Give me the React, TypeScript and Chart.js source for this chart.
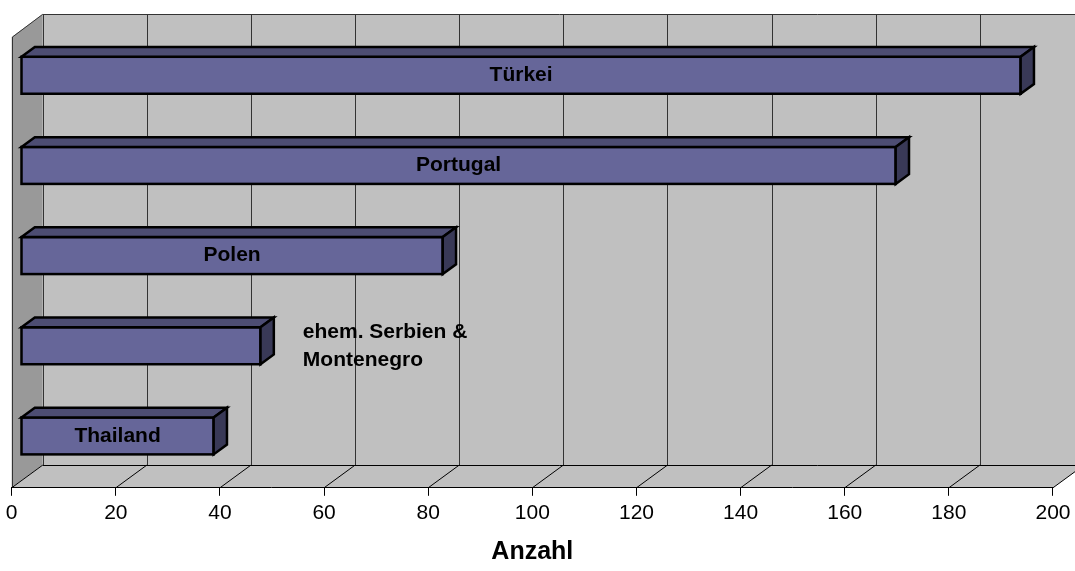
import React, { useEffect, useRef } from 'react';
import { Chart, registerables } from 'chart.js';

Chart.register(...registerables);

// ---- data ----
const categories: (string | string[])[] = ['Türkei', 'Portugal', 'Polen', ['ehem. Serbien &', 'Montenegro'], 'Thailand'];
const values: number[] = [192, 168, 81, 46, 37];
const xTicks: number[] = [0, 20, 40, 60, 80, 100, 120, 140, 160, 180, 200];
const axisTitle = 'Anzahl';

// ---- styles ----
const FONT = '"Liberation Sans", Arial, Helvetica, sans-serif';
const DX = 31; // full depth offset (px)
const DY = -22.7;
const FRONT = 0.3; // bar front plane position (fraction of depth)
const BAR_D = 0.43; // bar depth (fraction of depth)
const WALL = '#c0c0c0';
const SIDE = '#999999';
const GRID = '#333333';
const BAR_FRONT = '#666699';
const BAR_TOP = '#4d4d73';
const BAR_SIDE = '#393957';

const threeD = {
  id: 'threeD',
  beforeDraw(chart: any) {
    const { ctx, chartArea: ca, scales } = chart;
    const x = scales.x;
    const x0 = x.getPixelForValue(x.min);
    const x1 = x.getPixelForValue(x.max);
    const top = ca.top;
    const bot = ca.bottom;
    const bx0 = x0 + DX, bx1 = x1 + DX, bt = top + DY, bb = bot + DY;
    ctx.save();
    // back wall
    ctx.fillStyle = WALL;
    ctx.fillRect(bx0, bt, bx1 - bx0, bb - bt);
    // side wall
    ctx.beginPath();
    ctx.moveTo(x0, top);
    ctx.lineTo(bx0, bt);
    ctx.lineTo(bx0, bb);
    ctx.lineTo(x0, bot);
    ctx.closePath();
    ctx.fillStyle = SIDE;
    ctx.fill();
    // floor
    ctx.beginPath();
    ctx.moveTo(x0, bot);
    ctx.lineTo(x1, bot);
    ctx.lineTo(bx1, bb);
    ctx.lineTo(bx0, bb);
    ctx.closePath();
    ctx.fillStyle = WALL;
    ctx.fill();
    // back wall gridlines
    ctx.lineWidth = 1;
    ctx.strokeStyle = GRID;
    xTicks.forEach((v) => {
      const px = Math.round(x.getPixelForValue(v) + DX) + 0.5;
      ctx.beginPath();
      ctx.moveTo(px, bt);
      ctx.lineTo(px, bb);
      ctx.stroke();
    });
    // wall top edge
    ctx.beginPath();
    ctx.moveTo(bx0, Math.round(bt) + 0.5);
    ctx.lineTo(bx1, Math.round(bt) + 0.5);
    ctx.stroke();
    // side wall outline
    ctx.beginPath();
    ctx.moveTo(Math.round(x0) + 0.5, bot);
    ctx.lineTo(Math.round(x0) + 0.5, top);
    ctx.lineTo(bx0, bt);
    ctx.stroke();
    // floor lines
    ctx.strokeStyle = '#000';
    ctx.beginPath();
    ctx.moveTo(bx0, Math.round(bb) + 0.5);
    ctx.lineTo(bx1, Math.round(bb) + 0.5);
    ctx.stroke();
    xTicks.forEach((v) => {
      const px = x.getPixelForValue(v);
      ctx.beginPath();
      ctx.moveTo(px, bot);
      ctx.lineTo(px + DX, bb);
      ctx.stroke();
    });
    ctx.restore();
  },
  beforeDatasetsDraw(chart: any) {
    chart.ctx.save();
    chart.ctx.translate(DX * FRONT, DY * FRONT);
  },
  afterDatasetsDraw(chart: any) {
    const { ctx } = chart;
    ctx.restore();
    const meta = chart.getDatasetMeta(0);
    const ox = DX * FRONT, oy = DY * FRONT;
    const ddx = DX * BAR_D, ddy = DY * BAR_D;
    ctx.save();
    ctx.lineJoin = 'miter';
    ctx.lineWidth = 2.5;
    ctx.strokeStyle = '#000';
    meta.data.forEach((bar: any, i: number) => {
      const p = bar.getProps(['x', 'y', 'base', 'height'], true);
      const l = p.base + ox, r = p.x + ox;
      const t = p.y - p.height / 2 + oy, b = p.y + p.height / 2 + oy;
      // front outline
      ctx.strokeRect(l, t, r - l, b - t);
      // top face
      ctx.beginPath();
      ctx.moveTo(l, t);
      ctx.lineTo(l + ddx, t + ddy);
      ctx.lineTo(r + ddx, t + ddy);
      ctx.lineTo(r, t);
      ctx.closePath();
      ctx.fillStyle = BAR_TOP;
      ctx.fill();
      ctx.stroke();
      // side face
      ctx.beginPath();
      ctx.moveTo(r, t);
      ctx.lineTo(r + ddx, t + ddy);
      ctx.lineTo(r + ddx, b + ddy);
      ctx.lineTo(r, b);
      ctx.closePath();
      ctx.fillStyle = BAR_SIDE;
      ctx.fill();
      ctx.stroke();
      // label
      const lab = categories[i];
      const lines = Array.isArray(lab) ? lab : [lab];
      ctx.font = `bold 21px ${FONT}`;
      ctx.fillStyle = '#000';
      ctx.textBaseline = 'middle';
      const full = lines.join(' ');
      const w = ctx.measureText(full).width;
      const cy = (t + b) / 2;
      if (w + 12 < r - l) {
        ctx.textAlign = 'center';
        ctx.fillText(full, (l + r) / 2, cy);
      } else {
        ctx.textAlign = 'left';
        const lh = 28;
        const y0 = cy - ((lines.length - 1) * lh) / 2;
        lines.forEach((ln, k) => ctx.fillText(ln, r + ddx + 29, y0 + k * lh));
      }
    });
    ctx.restore();
  },
};

export default function App() {
  const ref = useRef<HTMLCanvasElement>(null);
  useEffect(() => {
    if (!ref.current) return;
    const chart = new Chart(ref.current, {
      type: 'bar',
      data: {
        labels: categories as any,
        datasets: [
          {
            data: values,
            backgroundColor: BAR_FRONT,
            borderWidth: 0,
            barPercentage: 0.41,
            categoryPercentage: 1,
          },
        ],
      },
      options: {
        indexAxis: 'y',
        animation: false,
        responsive: false,
        devicePixelRatio: 1,
        layout: { padding: { left: 11.7, right: 21.7, top: 37, bottom: 4 } },
        plugins: { legend: { display: false }, tooltip: { enabled: false } },
        scales: {
          x: {
            min: 0,
            max: 200,
            afterBuildTicks: (s: any) => {
              s.ticks = xTicks.map((v) => ({ value: v }));
            },
            ticks: { font: { family: FONT, size: 21 }, color: '#000', padding: 4.5, maxRotation: 0, autoSkip: false },
            grid: { drawOnChartArea: false, tickLength: 8, color: '#000', lineWidth: 1 },
            border: { color: '#000', width: 1 },
            title: {
              display: true,
              text: axisTitle,
              color: '#000',
              font: { family: FONT, size: 25, weight: 'bold' },
              padding: { top: 7, bottom: 0 },
            },
          },
          y: { display: false },
        },
      },
      plugins: [threeD],
    } as any);
    return () => chart.destroy();
  }, []);
  return (
    <div style={{ position: 'absolute', left: 0, top: 0, width: 1075, height: 571, background: '#fff' }}>
      <canvas ref={ref} width={1075} height={571} />
    </div>
  );
}
